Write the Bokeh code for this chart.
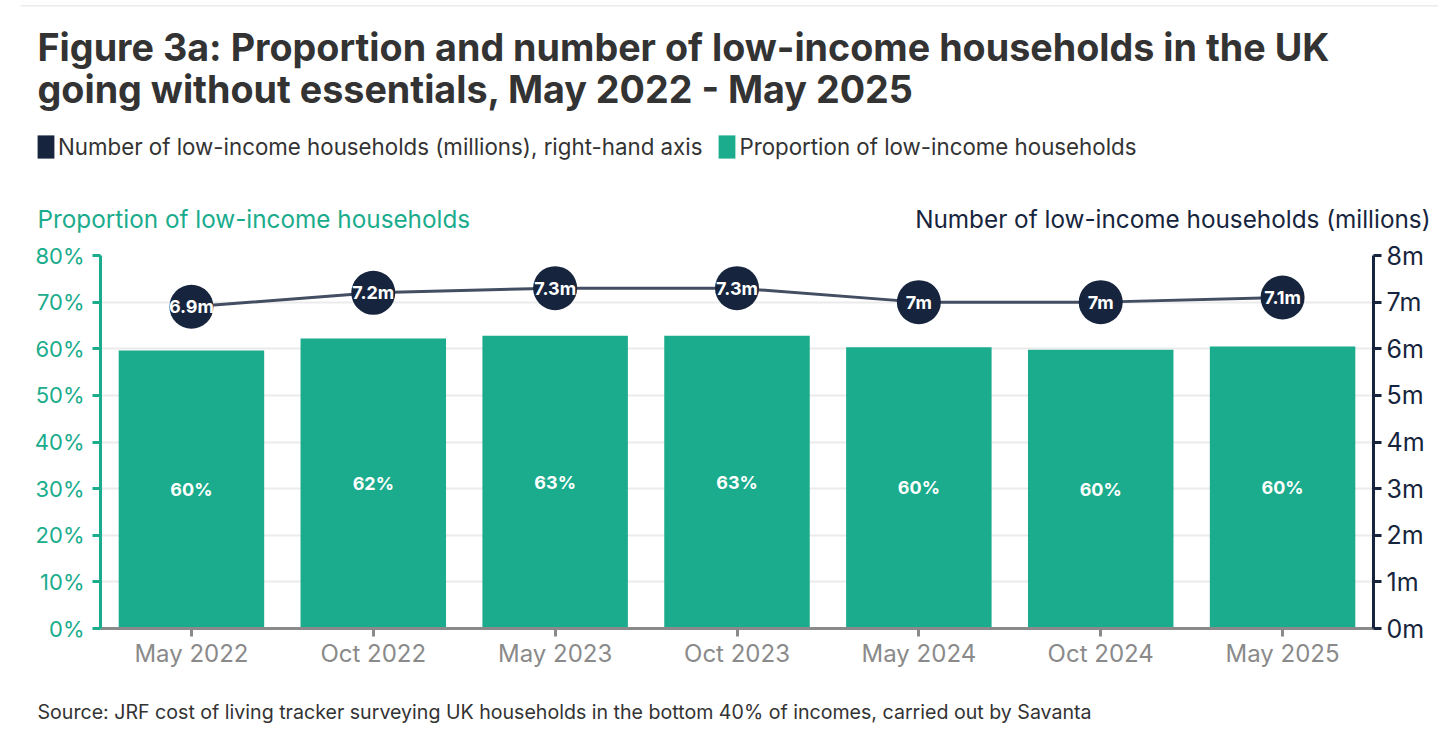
from bokeh.plotting import figure
from bokeh.models import (ColumnDataSource, Range1d, LinearAxis, FixedTicker,
                          PrintfTickFormatter, Label, Legend, LegendItem, BoxAnnotation)
from bokeh.layouts import column
from bokeh.core.properties import value
from bokeh.embed import file_html
from bokeh.resources import INLINE

# ---- data ----
categories = ["May 2022", "Oct 2022", "May 2023", "Oct 2023", "May 2024", "Oct 2024", "May 2025"]
proportion = [59.6, 62.2, 62.8, 62.8, 60.3, 59.8, 60.5]
proportion_labels = ["60%", "62%", "63%", "63%", "60%", "60%", "60%"]
households = [6.9, 7.2, 7.3, 7.3, 7.0, 7.0, 7.1]
household_labels = ["6.9m", "7.2m", "7.3m", "7.3m", "7m", "7m", "7.1m"]
left_ticks = [0, 10, 20, 30, 40, 50, 60, 70, 80]
right_ticks = [0, 1, 2, 3, 4, 5, 6, 7, 8]

title_lines = ["Figure 3a: Proportion and number of low-income households in the UK",
               "going without essentials, May 2022 - May 2025"]
legend_labels = ["Number of low-income households (millions), right-hand axis",
                 "Proportion of low-income households"]
left_title = "Proportion of low-income households"
right_title = "Number of low-income households (millions)"
source_text = "Source: JRF cost of living tracker surveying UK households in the bottom 40% of incomes, carried out by Savanta"

GREEN = "#1aac8c"
NAVY = "#16253d"
LINE = "#434e62"
DARK = "#333333"
GREY = "#8a8a8a"
GRID = "#ebebeb"
FONT = "Inter"

W = 1438
HEADER_H = 235
MAIN_H = 443
FOOTER_H = 48


def blank(height):
    f = figure(width=W, height=height, x_range=Range1d(0, W), y_range=Range1d(height, 0),
               x_axis_type=None, y_axis_type=None, output_backend="svg", toolbar_location=None,
               min_border=0, frame_align=False)
    f.outline_line_color = None
    f.grid.visible = False
    f.background_fill_color = "white"
    f.border_fill_color = "white"
    return f


def label(f, text, x, baseline, size, color, style="normal", align="left"):
    # Bokeh's "alphabetic" anchor sits about a third of an em below the true baseline
    f.add_layout(Label(x=x, y=baseline - 0.33 * size, text=text, text_font=FONT,
                       text_font_size=f"{size}px", text_color=color, text_font_style=style,
                       text_align=align, text_baseline="alphabetic"))


# ---- header ----
header = blank(HEADER_H)
header.add_layout(BoxAnnotation(left=20, right=W, top=4.5, bottom=6, fill_color=GRID,
                                fill_alpha=1, line_color=None))
label(header, title_lines[0], 37, 59, 37.7, DARK, "bold")
label(header, title_lines[1], 37, 101, 37.7, DARK, "bold")
label(header, left_title, 37, 227, 24.3, GREEN)
label(header, right_title, 1430, 227, 24.3, NAVY, align="right")

# legend keys: off-screen single-point renderers so the legend draws square swatches
d1 = header.vbar(x=[-1000], top=[-1000], width=1, fill_color=NAVY, line_color=None)
d2 = header.vbar(x=[-1000], top=[-1000], width=1, fill_color=GREEN, line_color=None)
legend = Legend(items=[LegendItem(label=legend_labels[0], renderers=[d1]),
                       LegendItem(label=legend_labels[1], renderers=[d2])],
                location=(35, HEADER_H - 160.5), orientation="horizontal",
                glyph_width=21, glyph_height=29, label_standoff=2, spacing=14,
                padding=0, margin=0, background_fill_alpha=0, border_line_alpha=0,
                label_text_font=FONT, label_text_font_size="22.3px", label_text_color=DARK,
                label_height=29)
header.add_layout(legend)

# ---- main chart ----
src = ColumnDataSource(dict(
    cat=categories,
    prop=proportion,
    prop_mid=[v / 2 for v in proportion],
    prop_lab=proportion_labels,
    num=households,
    num_lab=household_labels,
))

p = figure(x_range=categories, y_range=Range1d(0, 80), width=W, height=MAIN_H,
           output_backend="svg", toolbar_location=None, frame_align=False,
           min_border_left=100, min_border_right=W - 1373, min_border_top=20, min_border_bottom=50)
p.extra_y_ranges = {"num": Range1d(0, 8)}
p.outline_line_color = None
p.background_fill_color = "white"
p.border_fill_color = "white"

p.xgrid.grid_line_color = None
p.ygrid.grid_line_color = GRID
p.ygrid.grid_line_width = 2
p.ygrid.ticker = FixedTicker(ticks=left_ticks)

la = p.left[0]
la.ticker = FixedTicker(ticks=left_ticks)
la.formatter = PrintfTickFormatter(format="%d%%")
la.axis_line_color = GREEN
la.axis_line_width = 3
la.major_tick_line_color = GREEN
la.major_tick_line_width = 3
la.major_tick_out = 8
la.major_tick_in = 0
la.minor_tick_line_color = None
la.major_label_text_color = GREEN
la.major_label_text_font = FONT
la.major_label_text_font_size = "22px"
la.major_label_standoff = 8

ra = LinearAxis(y_range_name="num", ticker=FixedTicker(ticks=right_ticks),
                formatter=PrintfTickFormatter(format="%dm"))
ra.axis_line_color = NAVY
ra.axis_line_width = 3
ra.major_tick_line_color = NAVY
ra.major_tick_line_width = 3
ra.major_tick_out = 8
ra.major_tick_in = 0
ra.minor_tick_line_color = None
ra.major_label_text_color = NAVY
ra.major_label_text_font = FONT
ra.major_label_text_font_size = "25px"
ra.major_label_standoff = 5
p.add_layout(ra, "right")

xa = p.xaxis[0]
xa.axis_line_color = GREY
xa.axis_line_width = 3
xa.major_tick_line_color = GREY
xa.major_tick_line_width = 3
xa.major_tick_out = 8
xa.major_tick_in = 0
xa.major_label_text_color = GREY
xa.major_label_text_font = FONT
xa.major_label_text_font_size = "24px"
xa.major_label_standoff = 2

p.vbar(x="cat", top="prop", width=0.8, source=src, fill_color=GREEN, line_color=None)
p.text(x="cat", y="prop_mid", text="prop_lab", source=src, text_color="white",
       text_font=value(FONT), text_font_style="bold", text_font_size="18px",
       text_align="center", text_baseline="middle")

p.line(x="cat", y="num", source=src, y_range_name="num", line_color=LINE, line_width=3)
p.scatter(x="cat", y="num", source=src, y_range_name="num", size=44,
          fill_color=NAVY, line_color=None)
p.text(x="cat", y="num", text="num_lab", source=src, y_range_name="num", text_color="white",
       text_font=value(FONT), text_font_style="bold", text_font_size="18px",
       text_align="center", text_baseline="middle")

# ---- footer ----
footer = blank(FOOTER_H)
label(footer, source_text, 37, 40, 19.6, DARK)

layout = column(header, p, footer, spacing=0)
open("out.html", "w").write(file_html(layout, INLINE))
